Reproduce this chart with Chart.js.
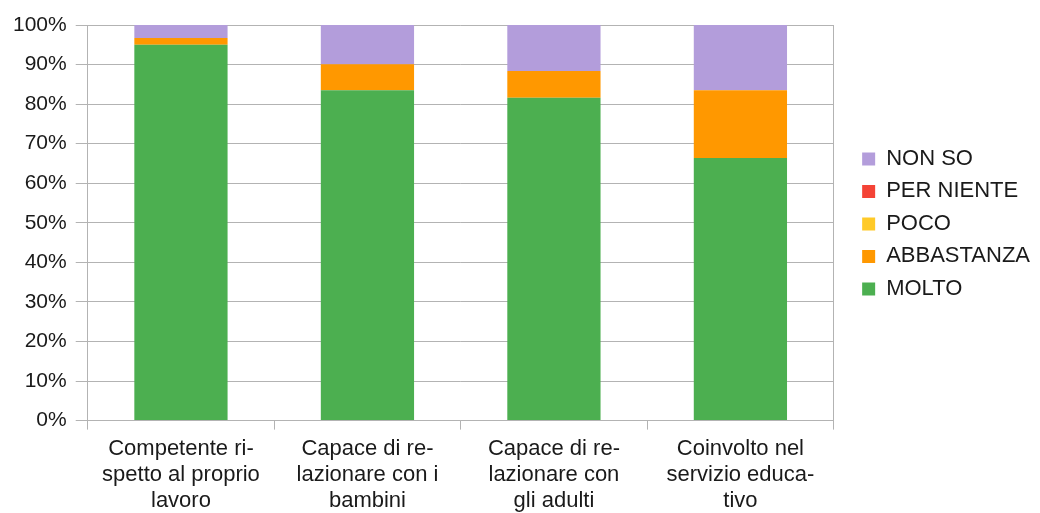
<!DOCTYPE html>
<html>
<head>
<meta charset="utf-8">
<script src="https://cdn.jsdelivr.net/npm/chart.js"></script>
<style>
  html, body { margin: 0; padding: 0; background: #fff; }
  #wrap { width: 1040px; height: 513px; position: relative; }
</style>
</head>
<body>
<div id="wrap"><canvas id="chart"></canvas></div>
<script>
// categories (multi-line, as in the original)
const categories = [
    ['Competente ri-', 'spetto al proprio', 'lavoro'],
    ['Capace di re-', 'lazionare con i', 'bambini'],
    ['Capace di re-', 'lazionare con', 'gli adulti'],
    ['Coinvolto nel', 'servizio educa-', 'tivo']
];

// percentage values per answer
const molto = [95.0, 83.5, 81.6, 66.4];
const abbastanza = [1.7, 6.6, 6.8, 17.1];
const poco = [0, 0, 0, 0];
const perNiente = [0, 0, 0, 0];
const nonSo = [3.3, 9.9, 11.6, 16.5];

const yTicks = [0, 10, 20, 30, 40, 50, 60, 70, 80, 90, 100];

const gridColor = '#b3b3b3';
const textColor = '#1a1a1a';
const fontFamily = '"Liberation Sans", Arial, sans-serif';

const ctx = document.getElementById('chart').getContext('2d');

new Chart(ctx, {
    type: 'bar',
    data: {
        labels: categories,
        datasets: [
            { label: 'MOLTO', data: molto, backgroundColor: '#4caf50' },
            { label: 'ABBASTANZA', data: abbastanza, backgroundColor: '#ff9800' },
            { label: 'POCO', data: poco, backgroundColor: '#ffca28' },
            { label: 'PER NIENTE', data: perNiente, backgroundColor: '#f44336' },
            { label: 'NON SO', data: nonSo, backgroundColor: '#b39ddb' }
        ].map(d => ({ ...d, borderWidth: 0, barPercentage: 0.5, categoryPercentage: 1 }))
    },
    options: {
        responsive: true,
        maintainAspectRatio: false,
        animation: false,
        layout: { padding: { top: 25, right: 0, left: 4, bottom: -6.5 } },
        plugins: {
            tooltip: { enabled: false },
            legend: {
                position: 'right',
                align: 'start',
                reverse: true,
                maxWidth: 220,
                // empty title only used to push the items down next to the plot
                title: { display: true, text: '', padding: { top: 98, bottom: 0 } },
                labels: {
                    boxWidth: 13,
                    boxHeight: 13,
                    padding: 10.5,
                    color: textColor,
                    font: { family: fontFamily, size: 22 }
                }
            }
        },
        scales: {
            x: {
                stacked: true,
                grid: { offset: true, drawOnChartArea: false, tickLength: 9, tickColor: gridColor },
                border: { color: gridColor },
                ticks: {
                    color: textColor,
                    padding: 6,
                    maxRotation: 0,
                    autoSkip: false,
                    font: { family: fontFamily, size: 22, lineHeight: 1.18 }
                }
            },
            y: {
                stacked: true,
                min: 0,
                max: 100,
                afterBuildTicks: (scale) => { scale.ticks = yTicks.map(v => ({ value: v })); },
                ticks: {
                    color: textColor,
                    padding: 9,
                    callback: (v) => v + '%',
                    font: { family: fontFamily, size: 21 }
                },
                grid: { color: gridColor, tickLength: 12 },
                border: { color: gridColor }
            },
            // right-hand frame line of the plot area
            y2: {
                position: 'right',
                min: 0,
                max: 100,
                ticks: { display: false },
                grid: { drawOnChartArea: false, drawTicks: false },
                border: { color: gridColor },
                afterFit: (scale) => { scale.width = 18; }
            }
        }
    }
});
</script>
</body>
</html>
